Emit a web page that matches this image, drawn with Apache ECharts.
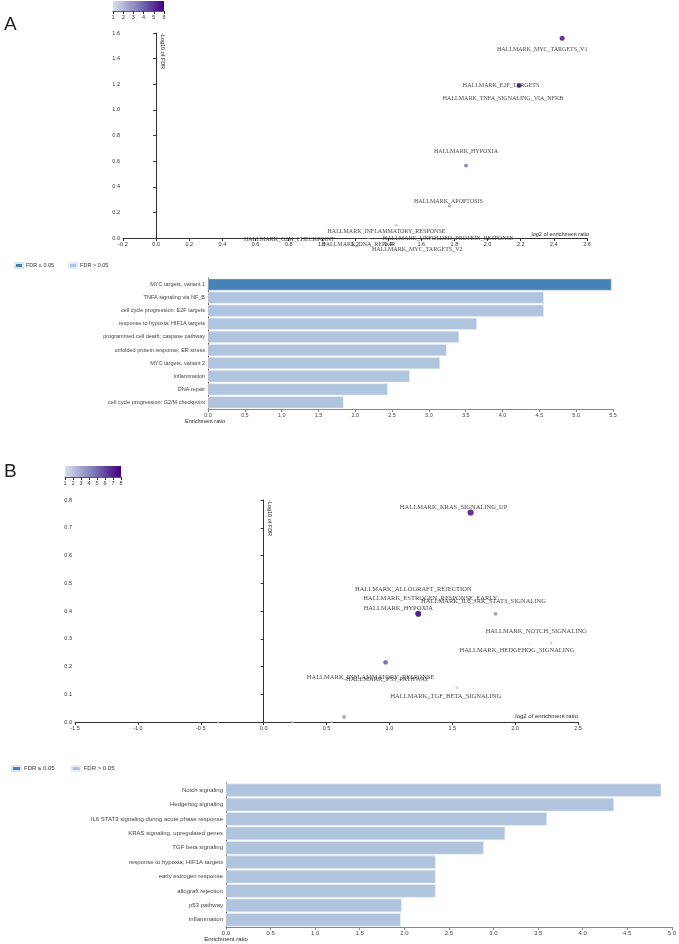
<!DOCTYPE html>
<html><head><meta charset="utf-8">
<script src="https://cdn.jsdelivr.net/npm/echarts@6/dist/echarts.min.js"></script>
<style>html,body{margin:0;padding:0;background:#fff}#c{width:679px;height:944px}</style>
</head><body><div id="c"></div>
<script>
// ---------- Panel A : scatter ----------
const aNames = ['HALLMARK_MYC_TARGETS_V1','HALLMARK_E2F_TARGETS','HALLMARK_TNFA_SIGNALING_VIA_NFKB','HALLMARK_HYPOXIA','HALLMARK_APOPTOSIS','HALLMARK_INFLAMMATORY_RESPONSE','HALLMARK_UNFOLDED_PROTEIN_RESPONSE','HALLMARK_G2M_CHECKPOINT','HALLMARK_DNA_REPAIR','HALLMARK_MYC_TARGETS_V2'];
const aLog2ER = [2.45, 2.19, 2.19, 1.87, 1.77, 1.45, 1.69, 0.87, 1.28, 1.66];
const aNegLogFDR = [1.56, 1.19, 1.19, 0.565, 0.25, 0.10, 0, 0, 0, 0];
const aOverlap = [6, 5, 5, 4, 3, 2, 2, 1, 1, 1];
// ---------- Panel A : bars ----------
const aBarCats = ['MYC targets, variant 1','TNFA signaling via NF_B','cell cycle progression: E2F targets','response to hypoxia; HIF1A targets','programmed cell death; caspase pathway','unfolded protein response; ER stress','MYC targets, variant 2','inflammation','DNA repair','cell cycle progression: G2/M checkpoint'];
const aBarER = [5.48, 4.56, 4.56, 3.65, 3.41, 3.24, 3.15, 2.74, 2.44, 1.84];
const aBarSig = [true, false, false, false, false, false, false, false, false, false];
// ---------- Panel B : scatter ----------
const bNames = ['HALLMARK_KRAS_SIGNALING_UP','HALLMARK_ALLOGRAFT_REJECTION','HALLMARK_ESTROGEN_RESPONSE_EARLY','HALLMARK_HYPOXIA','HALLMARK_IL6_JAK_STAT3_SIGNALING','HALLMARK_NOTCH_SIGNALING','HALLMARK_HEDGEHOG_SIGNALING','HALLMARK_INFLAMMATORY_RESPONSE','HALLMARK_P53_PATHWAY','HALLMARK_TGF_BETA_SIGNALING','','','',''];
const bLog2ER = [1.646, 1.23, 1.23, 1.23, 1.844, 2.287, 2.118, 0.97, 0.97, 1.536, 0.64, 0.23, 0.54, -0.36];
const bNegLogFDR = [0.755, 0.39, 0.39, 0.39, 0.39, 0.285, 0.285, 0.215, 0.215, 0.123, 0.018, 0, 0, 0];
const bOverlap = [8, 7, 7, 7, 4, 2, 1, 5, 5, 2, 4, 2, 2, 1];
// ---------- Panel B : bars ----------
const bBarCats = ['Notch signaling','Hedgehog signaling','IL6 STAT3 signaling during acute phase response','KRAS signaling, upregulated genes','TGF beta signaling','response to hypoxia; HIF1A targets','early estrogen response','allograft rejection','p53 pathway','inflammation'];
const bBarER = [4.88, 4.35, 3.60, 3.13, 2.89, 2.35, 2.35, 2.35, 1.97, 1.96];
const bBarSig = [false, false, false, false, false, false, false, false, false, false];
const legendNames = ['FDR \u2264 0.05', 'FDR > 0.05'];

// label placement (layout, pixels relative to point)
const aLabelOffset = [[-20,11],[-18,0],[-16,13],[0,-14],[-1,-5],[-10,6],[12,0],[-11,1],[-10,6],[-14,11]];
const bLabelOffset = [[-17,-5],[-5,-24],[12,-15],[-20,-5],[-12,-12],[-15,-12],[-13,7],[-15,15],[2,17],[-11,8],[0,0],[0,0],[0,0],[0,0]];

const purples = ['#dcdcee','#bcbddc','#9e9ac8','#807dba','#6a51a3','#54278f','#3f007d'];
const SANS = 'Liberation Sans', SERIF = 'Liberation Serif';

function scatterData(names, xs, ys, ov, offs){
  return names.map((n,i)=>({name:n, value:[xs[i], ys[i], ov[i]],
    label:{show: n !== '', offset: offs[i]}}));
}
function axisCommon(fs){
  return {
    axisLine:{show:true, onZero:true, lineStyle:{color:'#333', width:1}},
    axisTick:{show:true, length:3, lineStyle:{color:'#333'}},
    axisLabel:{fontSize:fs, color:'#333', fontFamily:SANS, margin:3, formatter:v=>v.toFixed(1)},
    splitLine:{show:false}
  };
}
function barAxes(gi, cats, max, fs){
  return {
    x:{type:'value', gridIndex:gi, min:0, max:max, interval:0.5,
      axisLine:{show:true, lineStyle:{color:'#888'}},
      axisTick:{show:true, length:3, lineStyle:{color:'#888'}},
      axisLabel:{fontSize:fs, color:'#444', fontFamily:SANS, margin:3, formatter:v=>v.toFixed(1)},
      splitLine:{show:false}},
    y:{type:'category', gridIndex:gi, data:cats, inverse:true,
      axisLine:{show:true, lineStyle:{color:'#666'}},
      axisTick:{show:false},
      axisLabel:{fontSize:fs, color:'#444', fontFamily:SANS, margin:3}}
  };
}
const aBA = barAxes(2, aBarCats, 5.5, 5.5);
const bBA = barAxes(5, bBarCats, 5.0, 6);

function cbAxis(gi, max){
  return {type:'value', gridIndex:gi, min:1, max:max, interval:1, position:'bottom',
    axisLine:{show:true, onZero:false, lineStyle:{color:'#333', width:0.8}},
    axisTick:{show:true, length:3, lineStyle:{color:'#333'}},
    axisLabel:{fontSize:5.5, color:'#333', fontFamily:SANS, margin:3},
    splitLine:{show:false}};
}
function cbY(gi){ return {type:'value', gridIndex:gi, show:false, min:0, max:1}; }
function grad(){ return new echarts.graphic.LinearGradient(0,0,1,0, purples.map((c,i)=>({offset:i/(purples.length-1), color:c}))); }

function txt(x,y,t,fs,align,va,rot,font){
  return {type:'text', x:x, y:y, rotation:rot||0,
    style:{text:t, fontSize:fs, fontFamily:font||SANS, fill:'#222', align:align, verticalAlign:va}};
}

const scatterLabel = {show:true, position:'inside', formatter:'{b}', fontFamily:SERIF, fontSize:6, color:'#111'};

const option = {
  animation:false,
  backgroundColor:'#fff',
  grid:[
    {left:113, top:1, width:51, height:10},
    {left:123, right:92, top:33, bottom:706},
    {left:208, right:66, top:278, bottom:535},
    {left:65, top:466, width:56, height:11},
    {left:75, right:101, top:500, bottom:222},
    {left:226, right:6, top:783, bottom:17}
  ],
  xAxis:[
    cbAxis(0,6),
    Object.assign({type:'value', gridIndex:1, min:-0.2, max:2.6, interval:0.2}, axisCommon(5.5)),
    aBA.x,
    cbAxis(3,8),
    Object.assign({type:'value', gridIndex:4, min:-1.5, max:2.5, interval:0.5}, axisCommon(5.5)),
    bBA.x
  ],
  yAxis:[
    cbY(0),
    Object.assign({type:'value', gridIndex:1, min:0, max:1.6, interval:0.2}, axisCommon(5.5)),
    aBA.y,
    cbY(3),
    Object.assign({type:'value', gridIndex:4, min:0, max:0.8, interval:0.1}, axisCommon(5.5)),
    bBA.y
  ],
  visualMap:[
    {type:'continuous', show:false, seriesIndex:0, dimension:2, min:1, max:6, inRange:{color:purples}},
    {type:'continuous', show:false, seriesIndex:3, dimension:2, min:1, max:8, inRange:{color:purples}}
  ],
  legend:[
    {left:9, top:257, data:legendNames, icon:'rect', itemWidth:8, itemHeight:5, itemGap:14,
     textStyle:{fontSize:5.5, color:'#333', fontFamily:SANS, padding:[0,0,0,-2]}},
    {left:6, top:760, data:legendNames, icon:'rect', itemWidth:9, itemHeight:5, itemGap:16,
     textStyle:{fontSize:6, color:'#333', fontFamily:SANS, padding:[0,0,0,-2]}}
  ],
  series:[
    {type:'scatter', xAxisIndex:1, yAxisIndex:1, symbol:'circle',
     symbolSize:v=>1.4+v[2]*0.6, label:scatterLabel,
     data:scatterData(aNames, aLog2ER, aNegLogFDR, aOverlap, aLabelOffset)},
    {type:'bar', name:legendNames[0], xAxisIndex:2, yAxisIndex:2, barGap:'-100%', barCategoryGap:'10%',
     itemStyle:{color:'#4682b4', borderColor:'#dce5f0', borderWidth:0.5},
     data:aBarER.map((v,i)=>aBarSig[i]?v:'-')},
    {type:'bar', name:legendNames[1], xAxisIndex:2, yAxisIndex:2, barGap:'-100%', barCategoryGap:'10%',
     itemStyle:{color:'#b0c4de', borderColor:'#e6ecf5', borderWidth:0.5},
     data:aBarER.map((v,i)=>aBarSig[i]?'-':v)},
    {type:'scatter', xAxisIndex:4, yAxisIndex:4, symbol:'circle',
     symbolSize:v=>1.4+v[2]*0.6, label:Object.assign({}, scatterLabel, {fontSize:6.5}),
     data:scatterData(bNames, bLog2ER, bNegLogFDR, bOverlap, bLabelOffset)},
    {type:'bar', name:legendNames[0], xAxisIndex:5, yAxisIndex:5, barGap:'-100%', barCategoryGap:'8%',
     itemStyle:{color:'#4682b4', borderColor:'#dce5f0', borderWidth:0.5},
     data:bBarER.map((v,i)=>bBarSig[i]?v:'-')},
    {type:'bar', name:legendNames[1], xAxisIndex:5, yAxisIndex:5, barGap:'-100%', barCategoryGap:'8%',
     itemStyle:{color:'#b0c4de', borderColor:'#e6ecf5', borderWidth:0.5},
     data:bBarER.map((v,i)=>bBarSig[i]?'-':v)}
  ],
  graphic:[
    {type:'rect', shape:{x:113, y:1, width:51, height:10}, style:{fill:grad()}, z:-1},
    {type:'rect', shape:{x:65, y:466, width:56, height:11}, style:{fill:grad()}, z:-1},
    txt(4, 25, 'A', 19, 'left', 'middle'),
    txt(4, 472, 'B', 19, 'left', 'middle'),
    txt(160, 33, '-Log10 of FDR', 5.5, 'left', 'bottom', -Math.PI/2),
    txt(589, 234, 'log2 of enrichment ratio', 5.5, 'right', 'middle'),
    txt(205, 421, 'Enrichment ratio', 5.5, 'center', 'middle'),
    txt(267, 500, '-Log10 of FDR', 5.5, 'left', 'bottom', -Math.PI/2),
    txt(578, 716, 'log2 of enrichment ratio', 6, 'right', 'middle'),
    txt(226, 939, 'Enrichment ratio', 6, 'center', 'middle')
  ]
};
const chart = echarts.init(document.getElementById('c'), null, {renderer:'canvas'});
chart.setOption(option);
</script>
</body></html>
